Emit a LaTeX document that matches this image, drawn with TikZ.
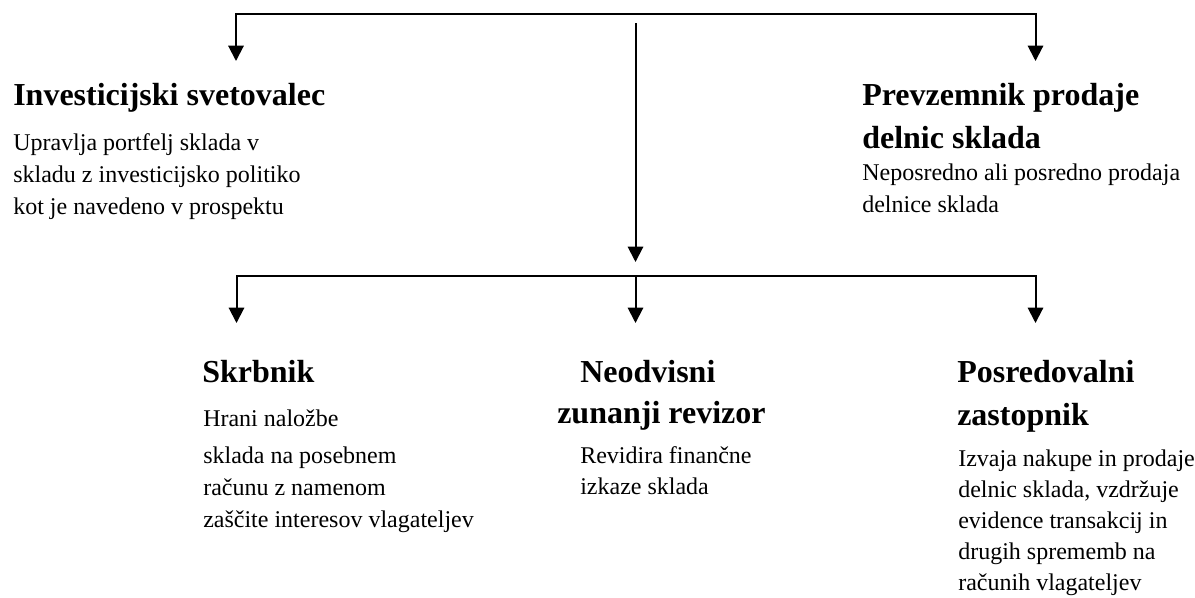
\documentclass[tikz,border=0pt]{standalone}
\usepackage{fontspec}
\setmainfont{Liberation Serif}
\usetikzlibrary{arrows.meta}
\tikzset{
  head/.style={anchor=base west,inner sep=0pt,font=\fontsize{24pt}{28pt}\selectfont\bfseries},
  body/.style={anchor=base west,inner sep=0pt,font=\fontsize{18pt}{22pt}\selectfont},
  conn/.style={line width=1.5pt,line join=miter},
  tri/.tip={Triangle[length=11.5pt,width=11.5pt]}
}
\begin{document}
\begin{tikzpicture}[x=0.75pt,y=-0.75pt]
\useasboundingbox (0,0) rectangle (1195,597);
% connector coordinates
\coordinate (tipL) at (236,61);
\coordinate (cornL) at (236,13.5);
\coordinate (cornR) at (1035.5,13.5);
\coordinate (tipR) at (1035.5,61);
\coordinate (midTop) at (635.5,23);
\coordinate (midTip) at (635.5,262);
\coordinate (b1tip) at (236.5,323);
\coordinate (bL) at (236.5,276);
\coordinate (bM) at (635.5,276);
\coordinate (bR) at (1035.5,276);
\coordinate (b2tip) at (635.5,323);
\coordinate (b3tip) at (1035.5,323);
\draw[conn,tri-tri] (tipL) -- (cornL) -- (cornR) -- (tipR);
\draw[conn,-tri] (midTop) -- (midTip);
\draw[conn,tri-tri] (b1tip) -- (bL) -- (bR) -- (b3tip);
\draw[conn,-tri] (bM) -- (b2tip);
% left
\node[head] (ih1) at (13,105) {Investicijski svetovalec};
\node[body] (ib1) at (13,150) {Upravlja portfelj sklada v};
\node[body] (ib2) at (13,182) {skladu z investicijsko politiko};
\node[body] (ib3) at (13,214) {kot je navedeno v prospektu};
% right
\node[head] (ph1) at (862,105) {Prevzemnik prodaje};
\node[head] (ph2) at (862,148) {delnic sklada};
\node[body] (pb1) at (862,180) {Neposredno ali posredno prodaja};
\node[body] (pb2) at (862,212) {delnice sklada};
% Skrbnik
\node[head] (sh) at (202,382) {Skrbnik};
\node[body] (sb1) at (203,426) {Hrani naložbe};
\node[body] (sb2) at (203,463) {sklada na posebnem};
\node[body] (sb3) at (203,495) {računu z namenom};
\node[body] (sb4) at (203,527) {zaščite interesov vlagateljev};
% Neodvisni
\node[head] (nh1) at (580,382) {Neodvisni};
\node[head] (nh2) at (557,423) {zunanji revizor};
\node[body] (nb1) at (580,463) {Revidira finančne};
\node[body] (nb2) at (580,494) {izkaze sklada};
% Posredovalni
\node[head] (rh1) at (957,382) {Posredovalni};
\node[head] (rh2) at (957,425) {zastopnik};
\node[body] (rb1) at (958,466) {Izvaja nakupe in prodaje};
\node[body] (rb2) at (958,497) {delnic sklada, vzdržuje};
\node[body] (rb3) at (958,528) {evidence transakcij in};
\node[body] (rb4) at (958,559) {drugih sprememb na};
\node[body] (rb5) at (958,590) {računih vlagateljev};
\end{tikzpicture}
\end{document}
